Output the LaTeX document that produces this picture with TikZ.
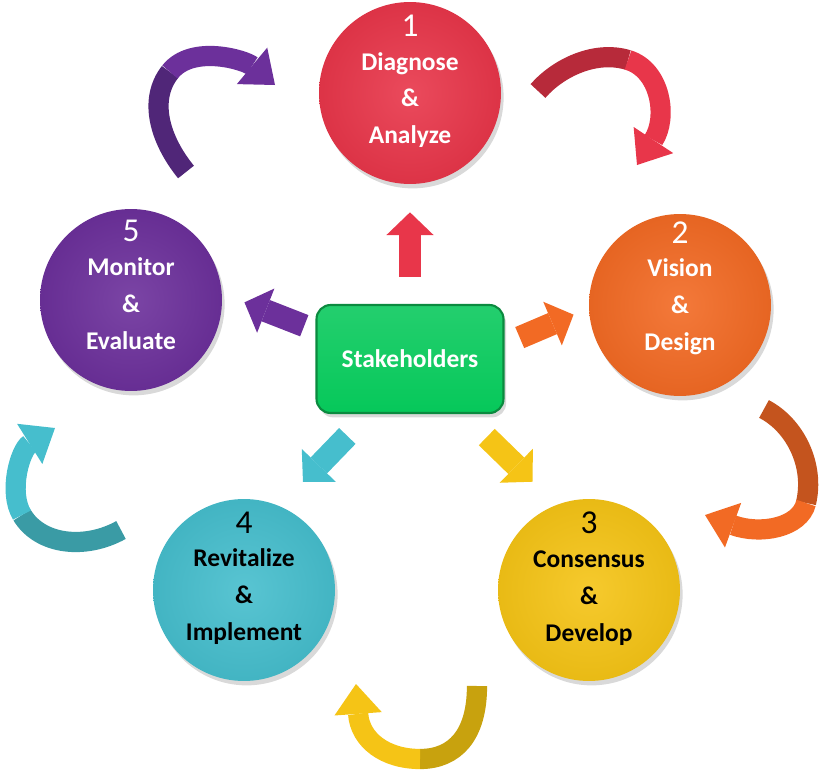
\documentclass[tikz,border=0pt]{standalone}
\usepackage{fontspec}
\setmainfont{Carlito}
\usetikzlibrary{arrows.meta,shadows}

\definecolor{rosso}{HTML}{E8364A}
\definecolor{rossoD}{HTML}{B72A3A}
\definecolor{arancio}{HTML}{F26A24}
\definecolor{arancioD}{HTML}{C4541E}
\definecolor{giallo}{HTML}{F5C416}
\definecolor{gialloD}{HTML}{C8A20E}
\definecolor{ciano}{HTML}{46BECD}
\definecolor{cianoD}{HTML}{3A9BA5}
\definecolor{viola}{HTML}{6C309B}
\definecolor{violaD}{HTML}{502678}
\definecolor{verde}{HTML}{06C85A}
\definecolor{verdeD}{HTML}{0B8A3F}

\newcommand{\stepno}[1]{{\fontsize{19}{21}\selectfont\mdseries #1}\\[-2pt]}

\begin{document}
\begin{tikzpicture}[x=0.02cm,y=-0.02cm,
    stage/.style={circle,minimum size=3.64cm,inner sep=0pt,
      inner color=#1!90!white,outer color=#1!95!black,
      drop shadow={opacity=0.3,shadow xshift=1.5pt,shadow yshift=-2.5pt}},
    caption/.style={anchor=north,inner sep=0pt,align=center,
      font=\fontsize{14.5}{21}\selectfont\bfseries},
    hub/.style={rectangle,rounded corners=8pt,minimum width=3.74cm,minimum height=2.16cm,
      draw=verdeD,line width=1.2pt,top color=verde!88!white,bottom color=verde,
      text=white,font=\fontsize{14.5}{16}\selectfont\bfseries,
      drop shadow={opacity=0.3,shadow xshift=1.5pt,shadow yshift=-2.5pt}},
    spoke/.style={line width=13pt,-{Triangle[length=13pt,width=27pt,line width=0pt]}},
    twist/.style={line width=11.5pt},
    swirl/.style={line width=11.5pt,-{Triangle[length=17pt,width=27pt,line width=0pt]}}]
    \useasboundingbox (0,0) rectangle (823,771);

    \node[stage=rosso] (c1) at (410,93) {};
    \node[stage=arancio] (c2) at (680,305) {};
    \node[stage=giallo] (c3) at (589,590) {};
    \node[stage=ciano] (c4) at (244,590) {};
    \node[stage=viola] (c5) at (131,300) {};
    \node[hub] (box) at (410,359) {Stakeholders};

    \node[caption,white] (t1) at ([yshift=44.5pt]c1.center) {\stepno{1}Diagnose\\\&\\Analyze};
    \node[caption,white] (t2) at ([yshift=47.5pt]c2.center) {\stepno{2}Vision\\\&\\Design};
    \node[caption,black] (t3) at ([yshift=44.5pt]c3.center) {\stepno{3}Consensus\\\&\\Develop};
    \node[caption,black] (t4) at ([yshift=44.5pt]c4.center) {\stepno{4}Revitalize\\\&\\Implement};
    \node[caption,white] (t5) at ([yshift=45.5pt]c5.center) {\stepno{5}Monitor\\\&\\Evaluate};

    \draw[spoke,rosso,shorten <=0.54cm,shorten >=0.56cm] (box.north) -- (c1.south);
    \draw[spoke,arancio,shorten <=0.33cm,shorten >=0.33cm] (box.9) -- (c2.182);
    \draw[spoke,giallo,shorten <=0.66cm,shorten >=0.66cm] (box.314) -- (c3.111);
    \draw[spoke,ciano,shorten <=0.61cm,shorten >=0.67cm] (box.233) -- (c4.67);
    \draw[spoke,viola,shorten <=0.24cm,shorten >=0.48cm] (box.163) -- (c5.4);

    \coordinate (r1) at (538,91);
    \coordinate (r2) at (628,60);
    \coordinate (r3) at (637,165);
    \coordinate (o1) at (764,409);
    \coordinate (o2) at (806,503);
    \coordinate (o3) at (705,515);
    \coordinate (y1) at (477,686);
    \coordinate (y2) at (420,759);
    \coordinate (y3) at (356,684);
    \coordinate (b1) at (121,530);
    \coordinate (b2) at (22,515);
    \coordinate (b3) at (55,428);
    \coordinate (v1) at (186,172);
    \coordinate (v2) at (170,72);
    \coordinate (v3) at (275,85);

    \draw[twist,rossoD] (r1) .. controls (558,68) and (595,50) .. (r2);
    \draw[swirl,rosso] (r2) .. controls (661,70) and (668,118) .. (r3);
    \draw[twist,arancioD] (o1) .. controls (795,425) and (815,465) .. (o2);
    \draw[swirl,arancio] (o2) .. controls (800,528) and (760,535) .. (o3);
    \draw[twist,gialloD] (y1) .. controls (477,735) and (455,759) .. (y2);
    \draw[swirl,giallo] (y2) .. controls (385,759) and (360,740) .. (y3);
    \draw[twist,cianoD] (b1) .. controls (85,550) and (40,545) .. (b2);
    \draw[swirl,ciano] (b2) .. controls (8,492) and (20,450) .. (b3);
    \draw[twist,violaD] (v1) .. controls (160,140) and (148,100) .. (v2);
    \draw[swirl,viola] (v2) .. controls (192,44) and (245,60) .. (v3);
\end{tikzpicture}
\end{document}
